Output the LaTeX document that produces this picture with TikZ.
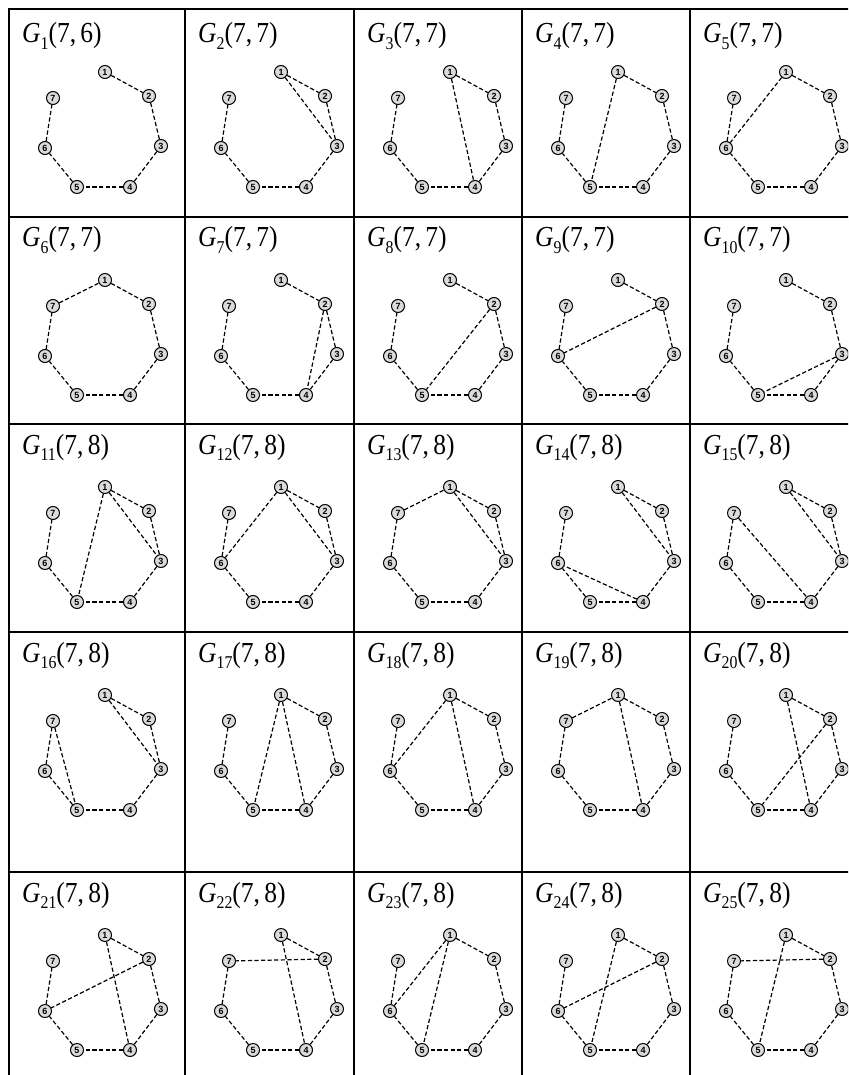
\documentclass[tikz,border=0pt]{standalone}
\usepackage{fontspec}
\setmainfont{Liberation Serif}
\setsansfont{Liberation Sans}
\tikzset{
  vtx/.style={circle, draw=black, line width=1pt, fill=black!14, inner sep=0pt,
    minimum size=13pt, font=\sffamily\bfseries\fontsize{9}{9}\selectfont},
  edge/.style={draw=black, line width=1.2pt, dash pattern=on 4.2pt off 2.4pt},
  gridline/.style={draw=black, line width=2pt},
  gtitle/.style={anchor=base west, inner sep=0pt}
}
\newcommand\gcell[6][30]{%
  \begin{scope}[shift={(#2,#3)}]
    \node[gtitle] (t#4) at (13,#1) {\scalebox{0.88}[1]{\fontsize{29}{29}\selectfont\itshape G\upshape\raisebox{-0.22em}{\fontsize{18}{18}\selectfont #4}(7,\,#5)}};
    \node[vtx] (g#4-1) at (96,63) {1};
    \node[vtx] (g#4-2) at (140,87) {2};
    \node[vtx] (g#4-3) at (152,137) {3};
    \node[vtx] (g#4-4) at (121,178) {4};
    \node[vtx] (g#4-5) at (68,178) {5};
    \node[vtx] (g#4-6) at (36,139) {6};
    \node[vtx] (g#4-7) at (44,89) {7};
    \foreach \a/\b in {#6} {\draw[edge] (g#4-\a) -- (g#4-\b);}
  \end{scope}%
}
\begin{document}
\begin{tikzpicture}[x=1pt, y=-1pt]
  \useasboundingbox (0,0) rectangle (848,1075);
  \clip (0,0) rectangle (848,1075);
  \fill[white] (0,0) rectangle (848,1075);
  % grid
  \foreach \x in {9,185,354,522,690} {\draw[gridline] (\x,8) -- (\x,1080);}
  \foreach \y in {9,217,424,632,872} {\draw[gridline] (8,\y) -- (860,\y);}
  % row 1
  \gcell[34]{9}{9}{1}{6}{1/2,2/3,3/4,4/5,5/6,6/7}
  \gcell[34]{185}{9}{2}{7}{1/2,1/3,2/3,3/4,4/5,5/6,6/7}
  \gcell[34]{354}{9}{3}{7}{1/2,2/3,3/4,1/4,4/5,5/6,6/7}
  \gcell[34]{522}{9}{4}{7}{1/2,2/3,3/4,4/5,1/5,5/6,6/7}
  \gcell[34]{690}{9}{5}{7}{1/2,2/3,3/4,4/5,5/6,6/7,1/6}
  % row 2
  \gcell{9}{217}{6}{7}{1/2,2/3,3/4,4/5,5/6,6/7,7/1}
  \gcell{185}{217}{7}{7}{1/2,2/3,2/4,3/4,4/5,5/6,6/7}
  \gcell{354}{217}{8}{7}{1/2,2/3,3/4,4/5,2/5,5/6,6/7}
  \gcell{522}{217}{9}{7}{1/2,2/3,3/4,4/5,5/6,6/7,2/6}
  \gcell{690}{217}{10}{7}{1/2,2/3,3/4,4/5,3/5,5/6,6/7}
  % row 3
  \gcell{9}{424}{11}{8}{1/2,2/3,1/3,3/4,4/5,1/5,5/6,6/7}
  \gcell{185}{424}{12}{8}{1/2,2/3,1/3,3/4,4/5,5/6,6/7,1/6}
  \gcell{354}{424}{13}{8}{1/2,2/3,1/3,3/4,4/5,5/6,6/7,7/1}
  \gcell{522}{424}{14}{8}{1/2,2/3,1/3,3/4,4/5,5/6,6/7,4/6}
  \gcell{690}{424}{15}{8}{1/2,2/3,1/3,3/4,4/5,5/6,6/7,7/4}
  % row 4
  \gcell{9}{632}{16}{8}{1/2,2/3,1/3,3/4,4/5,5/6,6/7,7/5}
  \gcell{185}{632}{17}{8}{1/2,2/3,3/4,4/5,1/5,1/4,5/6,6/7}
  \gcell{354}{632}{18}{8}{1/2,2/3,3/4,4/5,5/6,6/7,1/6,1/4}
  \gcell{522}{632}{19}{8}{1/2,2/3,3/4,4/5,5/6,6/7,7/1,1/4}
  \gcell{690}{632}{20}{8}{1/2,2/3,3/4,4/5,5/6,6/7,1/4,2/5}
  % row 5
  \gcell{9}{872}{21}{8}{1/2,2/3,3/4,4/5,5/6,6/7,1/4,2/6}
  \gcell{185}{872}{22}{8}{1/2,2/3,3/4,4/5,5/6,6/7,1/4,2/7}
  \gcell{354}{872}{23}{8}{1/2,2/3,3/4,4/5,5/6,6/7,1/5,1/6}
  \gcell{522}{872}{24}{8}{1/2,2/3,3/4,4/5,5/6,6/7,1/5,2/6}
  \gcell{690}{872}{25}{8}{1/2,2/3,3/4,4/5,5/6,6/7,1/5,2/7}
\end{tikzpicture}
\end{document}
